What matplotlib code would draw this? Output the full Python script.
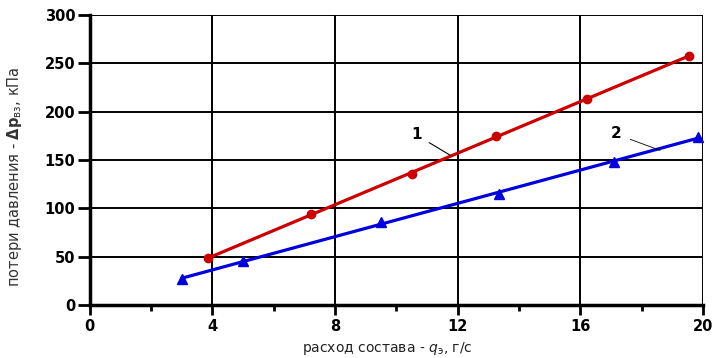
import numpy as np
import matplotlib
matplotlib.use("Agg")
import matplotlib.pyplot as plt

# Data
x1 = [3.85, 7.2, 10.5, 13.25, 16.2, 19.55]
y1 = [48.5, 94, 135.5, 174.5, 213, 258]
x2 = [3.0, 5.0, 9.5, 13.35, 17.1, 19.85]
y2 = [27, 45.5, 85.5, 115, 148, 174]
xticks = [0, 4, 8, 12, 16, 20]
yticks = [0, 50, 100, 150, 200, 250, 300]

fig = plt.figure(figsize=(7.13, 3.58), dpi=100)
ax = fig.add_axes([0.126, 0.148, 0.86, 0.81])

ax.set_xlim(0, 20)
ax.set_ylim(0, 300)
ax.set_xticks(xticks)
ax.set_yticks(yticks)
ax.set_xticks([2, 6, 10, 14, 18], minor=True)
ax.grid(True, which='major', color='black', linewidth=1.4, zorder=0)

# fitted straight lines
for xs, ys, col in [(x1, y1, '#cc0000'), (x2, y2, '#0000dd')]:
    k, b = np.polyfit(xs, ys, 1)
    xx = np.array([min(xs), max(xs)])
    ax.plot(xx, k * xx + b, color=col, linewidth=2.3, zorder=3, clip_on=False)

ax.plot(x1, y1, 'o', color='#cc0000', markersize=6, zorder=4, clip_on=False)
ax.plot(x2, y2, '^', color='#0000dd', markersize=7, zorder=4, clip_on=False)

ax.annotate('1', xy=(11.75, 155), xytext=(10.65, 176), fontsize=11, fontweight='bold',
            ha='center', va='center',
            arrowprops=dict(arrowstyle='-', color='black', lw=0.8, shrinkA=4, shrinkB=0))
ax.annotate('2', xy=(18.6, 160), xytext=(17.15, 177), fontsize=11, fontweight='bold',
            ha='center', va='center',
            arrowprops=dict(arrowstyle='-', color='black', lw=0.6, shrinkA=5, shrinkB=0))

for s in ['left', 'bottom']:
    ax.spines[s].set_linewidth(2.5)
for s in ['top', 'right']:
    ax.spines[s].set_visible(False)

ax.tick_params(axis='y', which='major', direction='out', length=8.5, width=2, labelsize=10.5, pad=2)
ax.tick_params(axis='x', which='major', direction='out', length=7, width=2, labelsize=10.5, pad=3)
ax.tick_params(which='minor', direction='out', length=4, width=2)
for lbl in ax.get_xticklabels() + ax.get_yticklabels():
    lbl.set_fontweight('bold')

ax.set_xlabel(r'расход состава - $\mathbf{\mathit{q}}_{\mathrm{э}}$, г/с', fontsize=10, color='#222222')
ax.xaxis.set_label_coords(0.486, -0.122)
ax.set_ylabel(r'потери давления - $\mathbf{\Delta p}_{\mathrm{вз}}$, кПа', fontsize=10.5,
              color='#333333', family=['Liberation Sans Narrow', 'DejaVu Sans'])
ax.yaxis.set_label_coords(-0.108, 0.441)

fig.savefig('out.png', dpi=100)
